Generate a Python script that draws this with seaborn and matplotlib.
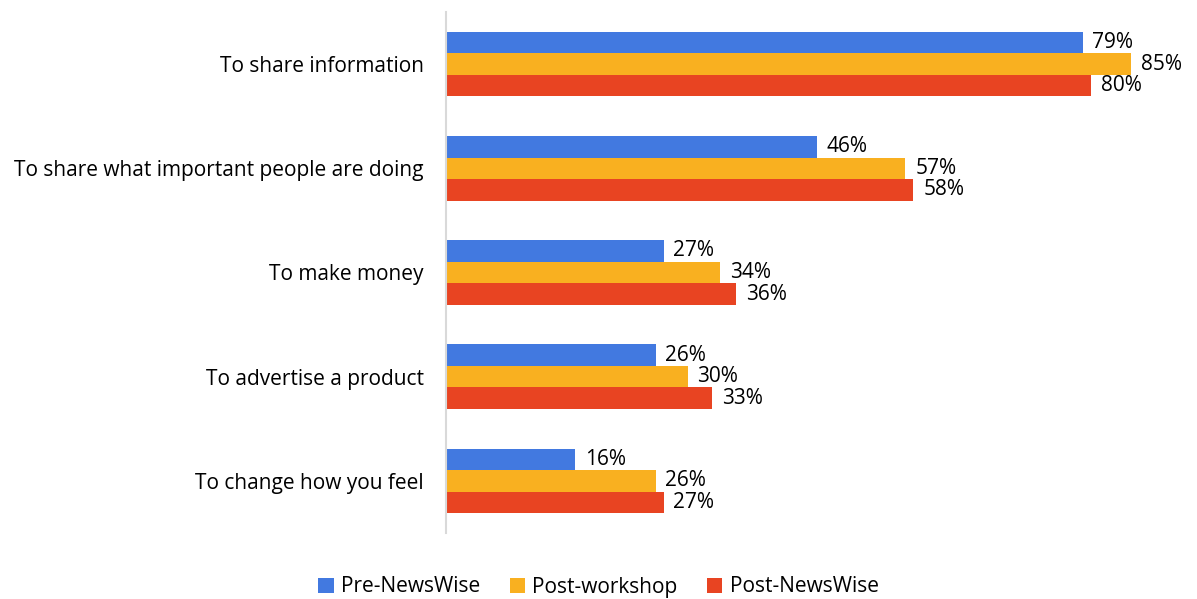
import matplotlib
matplotlib.use("Agg")
import matplotlib.pyplot as plt
import seaborn as sns
import pandas as pd

categories = ["To share information", "To share what important people are doing",
              "To make money", "To advertise a product", "To change how you feel"]
series_names = ["Pre-NewsWise", "Post-workshop", "Post-NewsWise"]
pre_newswise = [79, 46, 27, 26, 16]
post_workshop = [85, 57, 34, 30, 26]
post_newswise = [80, 58, 36, 33, 27]
colors = ["#4279E0", "#F9B020", "#E84422"]

rows = []
for name, vals in zip(series_names, [pre_newswise, post_workshop, post_newswise]):
    for c, v in zip(categories, vals):
        rows.append({"category": c, "series": name, "value": v})
df = pd.DataFrame(rows)

sns.set_style("white")
plt.rcParams['font.family'] = ['Open Sans', 'DejaVu Sans']
plt.rcParams['text.color'] = 'black'

fig = plt.figure(figsize=(11.97, 5.99), dpi=100)
ax = fig.add_axes([446/1197, 1 - 533/599, (92*8.06)/1197, (533-12)/599])
sns.barplot(data=df, y="category", x="value", hue="series", order=categories,
            hue_order=series_names, palette=colors, orient="h", width=0.62,
            saturation=1, ax=ax, legend=True, linewidth=0, edgecolor="none")

for cont in ax.containers:
    ax.bar_label(cont, labels=[f"{int(v)}%" for v in cont.datavalues], padding=7,
                 fontsize=15, color="black")

ax.set_xlim(0, 92)
ax.set_ylim(4.5, -0.5)
ax.set_xlabel("")
ax.set_ylabel("")
ax.set_xticks([])
ax.tick_params(axis="y", length=0, labelsize=15, pad=16, labelcolor="black")
for s in ["top", "right", "bottom"]:
    ax.spines[s].set_visible(False)
ax.spines["left"].set_color("#D9D9D9")
ax.spines["left"].set_linewidth(1.5)

handles, labels = ax.get_legend_handles_labels()
ax.legend_.remove()
fig.legend(handles, labels, loc="center", bbox_to_anchor=(0.5, 1 - 587/599), ncol=3,
           frameon=False, fontsize=15, handlelength=0.75, handleheight=0.75,
           columnspacing=1.4, handletextpad=0.35)

fig.savefig("out.png", dpi=100)
